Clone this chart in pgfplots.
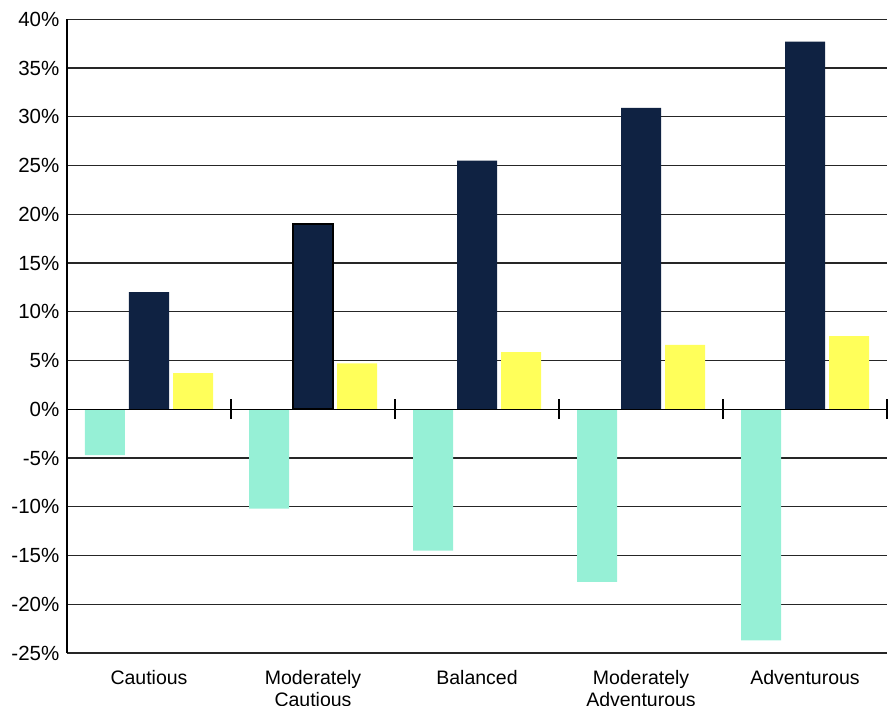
\documentclass[border=0pt]{standalone}
\usepackage{pgfplots}
\pgfplotsset{compat=1.18}
\usepackage{fontspec}
\setmainfont{Liberation Sans}
\definecolor{navy}{RGB}{15,34,66}
\definecolor{mint}{RGB}{150,240,214}
\definecolor{lemon}{RGB}{255,255,90}
\begin{document}
\begin{tikzpicture}
\begin{axis}[
  at={(0,0)}, anchor=south west,
  scale only axis, width=820bp, height=633.75bp,
  xmin=-0.5, xmax=4.5, ymin=-25, ymax=40,
  axis x line=bottom, axis y line=left,
  x axis line style={draw=none},
  y axis line style={black, line width=1.3bp, -},
  ytick={-25,-20,...,40},
  yticklabel={\pgfmathprintnumber{\tick}\%},
  /pgf/number format/assume math mode=true,
  yticklabel style={font=\fontsize{20.5bp}{24bp}\selectfont, xshift=-2bp},
  ymajorgrids, grid style={black!85, line width=1.2bp},
  major y tick style={draw=none},
  xtick={0,1,2,3,4},
  major x tick style={draw=none},
  xticklabels={Cautious,{Moderately\\Cautious},Balanced,{Moderately\\Adventurous},Adventurous},
  xticklabel style={font=\fontsize{19.5bp}{22bp}\selectfont, align=center, yshift=-12bp},
  clip=false,
]
\addplot[ybar, bar width=40bp, bar shift=-44bp, fill=mint, draw=none] coordinates {(0,-4.7) (1,-10.2) (2,-14.5) (3,-17.7) (4,-23.7)};
\addplot[ybar, bar width=40bp, bar shift=0bp, fill=navy, draw=none] coordinates {(0,12.0) (1,19.0) (2,25.5) (3,30.9) (4,37.7)};
\addplot[ybar, bar width=40bp, bar shift=44bp, fill=lemon, draw=none] coordinates {(0,3.7) (1,4.7) (2,5.85) (3,6.6) (4,7.5)};
\addplot[ybar, bar width=40bp, bar shift=0bp, fill=navy, draw=black, line width=1.5bp] coordinates {(1,19.0)};
\draw[black, line width=1.3bp] (axis cs:-0.5,0) -- (axis cs:4.5,0);
\pgfplotsinvokeforeach{0.5,1.5,2.5,3.5,4.5}{
  \draw[black, line width=1.2bp] ([yshift=-10bp]axis cs:#1,0) -- ([yshift=10bp]axis cs:#1,0);
}
\end{axis}
\pgfresetboundingbox
\path (-67bp,-53bp) rectangle (826bp,653bp);
\end{tikzpicture}
\end{document}
